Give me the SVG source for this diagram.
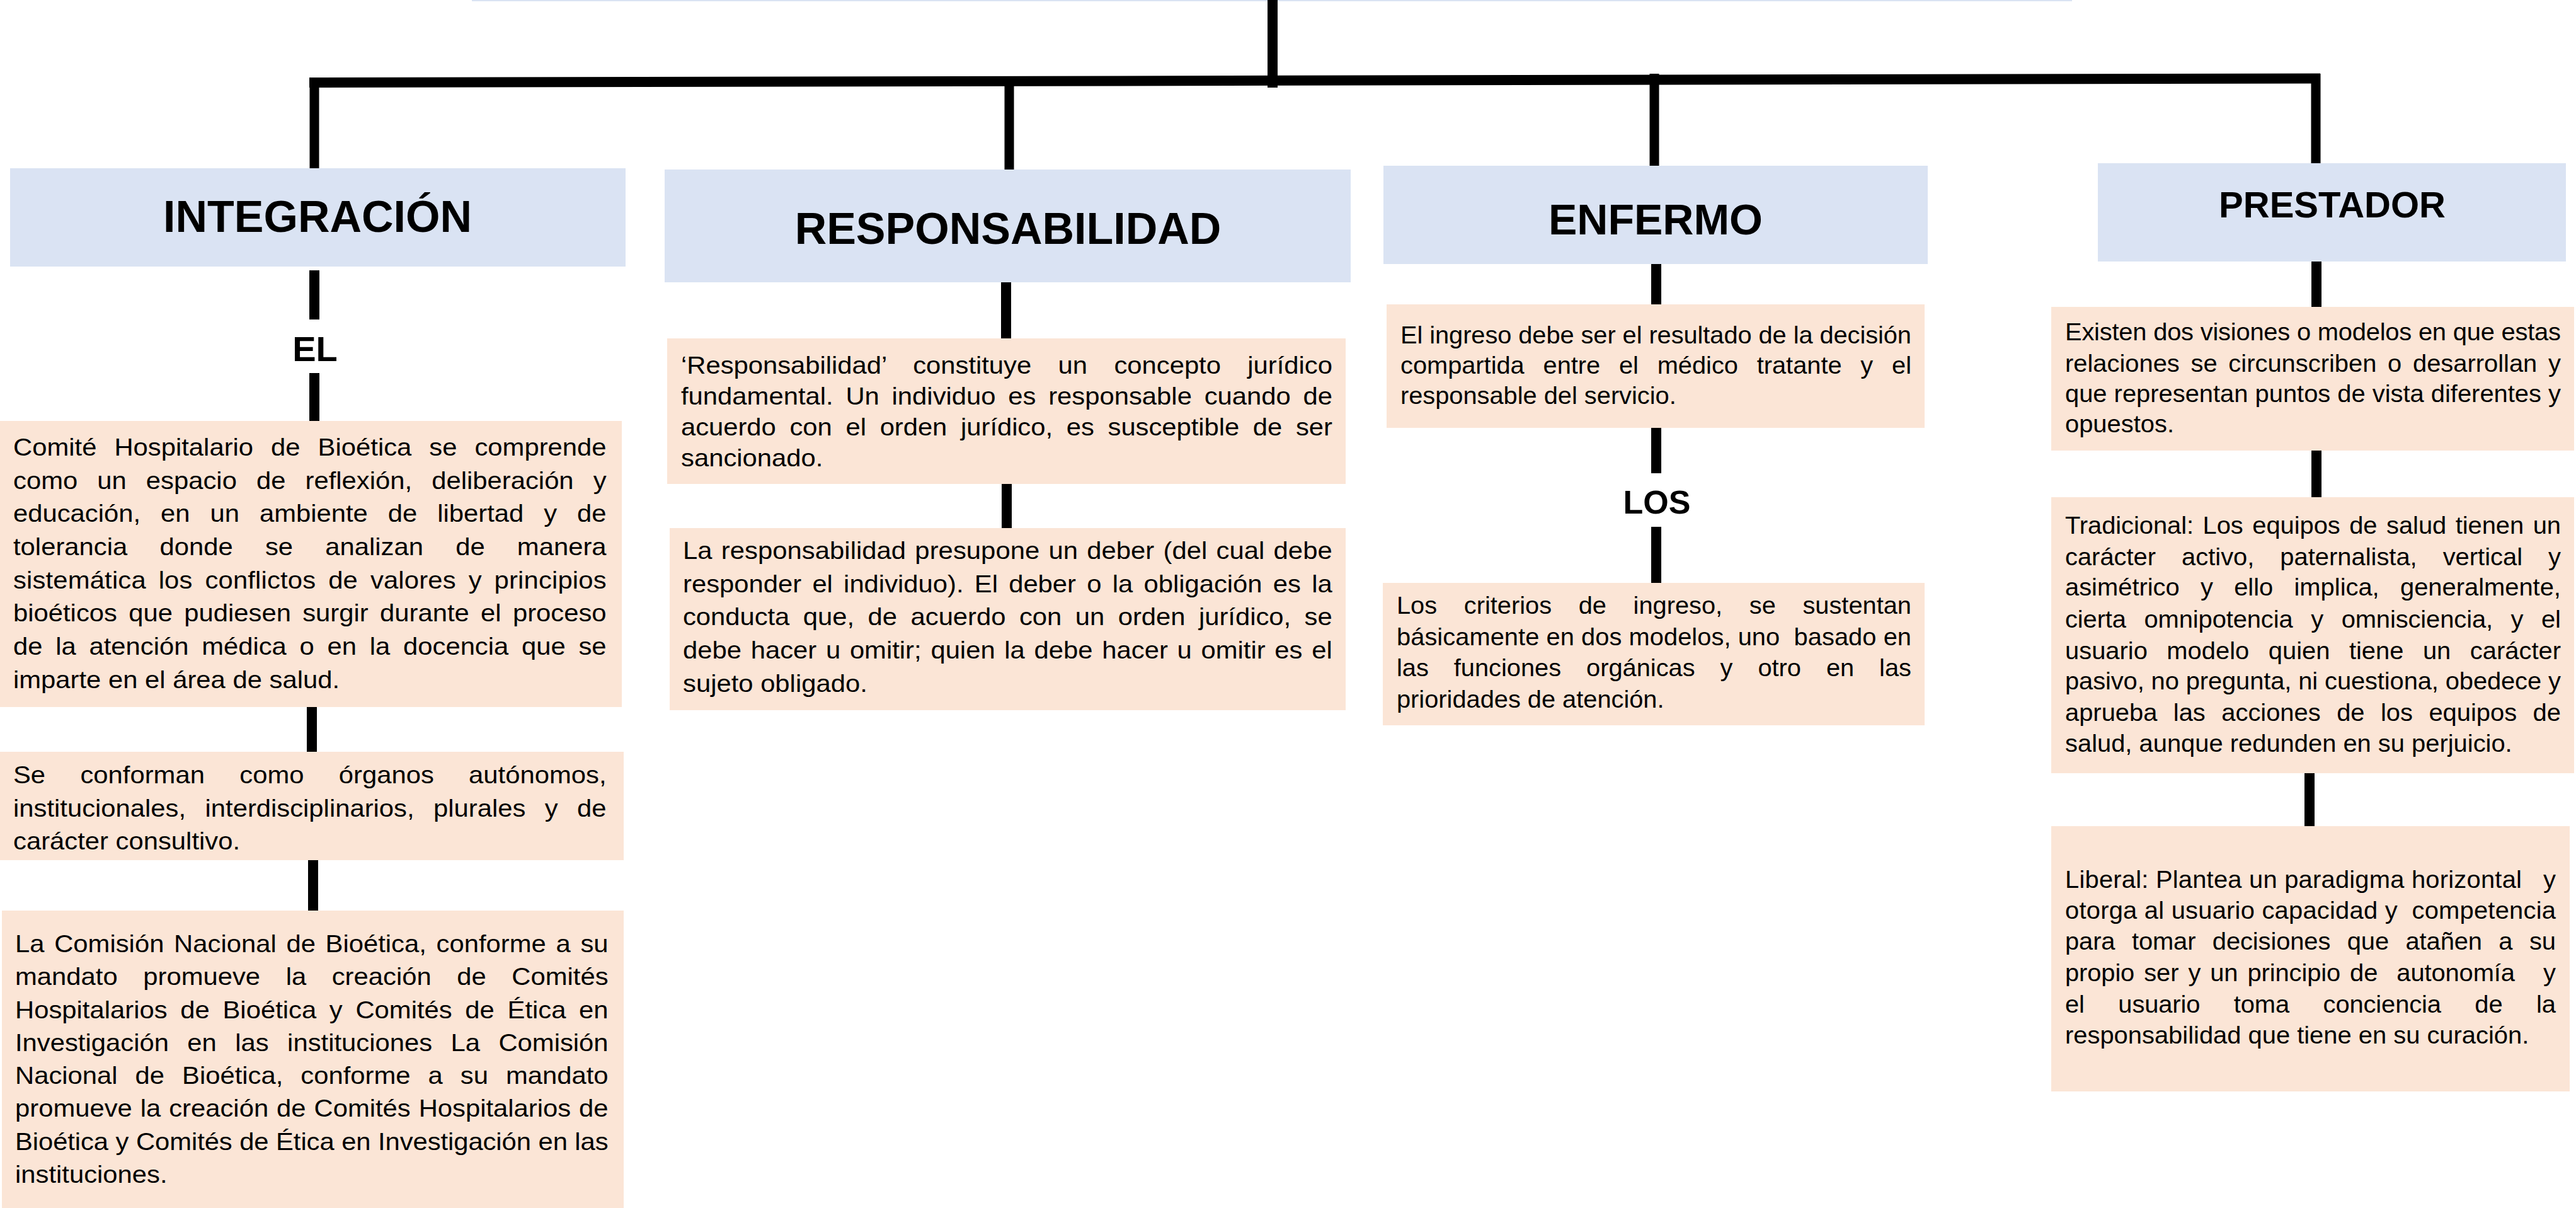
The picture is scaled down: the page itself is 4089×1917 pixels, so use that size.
<svg xmlns="http://www.w3.org/2000/svg" width="4089" height="1917" viewBox="0 0 4089 1917">
<style>
.hdr{fill:#DAE3F3}
.box{fill:#FBE5D6}
.t{font-family:"Liberation Sans",Arial,sans-serif;font-size:38px;fill:#000}
.h{font-family:"Liberation Sans",Arial,sans-serif;font-weight:bold;fill:#000;text-anchor:middle}
.c{stroke:#000;fill:none}
.c1{stroke-width:15}
.c2{stroke-width:16}
</style>
<rect width="4089" height="1917" fill="#fff"/>
<g id="title"><rect class="hdr" x="749" y="-20" width="2540" height="22"/></g>
<g id="connectors">
<line class="c c2" x1="2020" y1="0" x2="2020" y2="139"/>
<line class="c c2" x1="491" y1="131" x2="3683" y2="124.5"/>
<line class="c c1" x1="499" y1="124" x2="499" y2="267"/>
<line class="c c1" x1="1602" y1="124" x2="1602" y2="269"/>
<line class="c c1" x1="2626" y1="117" x2="2626" y2="263"/>
<line class="c c1" x1="3676" y1="117" x2="3676" y2="259"/>
<line class="c c2" x1="499" y1="429" x2="499" y2="507"/>
<line class="c c2" x1="499" y1="592" x2="499" y2="668"/>
<line class="c c2" x1="495" y1="1122" x2="495" y2="1193"/>
<line class="c c2" x1="497" y1="1365" x2="497" y2="1445"/>
<line class="c c2" x1="1597" y1="448" x2="1597" y2="537"/>
<line class="c c2" x1="1598" y1="768" x2="1598" y2="838"/>
<line class="c c2" x1="2629" y1="419" x2="2629" y2="483"/>
<line class="c c2" x1="2629" y1="679" x2="2629" y2="751"/>
<line class="c c2" x1="2629" y1="836" x2="2629" y2="925"/>
<line class="c c2" x1="3677" y1="415" x2="3677" y2="487"/>
<line class="c c2" x1="3677" y1="715" x2="3677" y2="789"/>
<line class="c c2" x1="3666" y1="1227" x2="3666" y2="1311"/>
</g>
<g id="integracion"><rect class="hdr" x="16" y="267" width="977" height="156"/><text class="h" x="504" y="368" font-size="70">INTEGRACIÓN</text></g>
<g id="responsabilidad"><rect class="hdr" x="1055" y="269" width="1089" height="179"/><text class="h" x="1600" y="387" font-size="70">RESPONSABILIDAD</text></g>
<g id="enfermo"><rect class="hdr" x="2196" y="263" width="864" height="156"/><text class="h" x="2628" y="372" font-size="68">ENFERMO</text></g>
<g id="prestador"><rect class="hdr" x="3330" y="259" width="743" height="156"/><text class="h" x="3702" y="345" font-size="58">PRESTADOR</text></g>
<g id="el"><text class="h" x="500" y="573" font-size="56">EL</text></g>
<g id="los"><text class="h" x="2630" y="815" font-size="52">LOS</text></g>
<g id="comite"><rect class="box" x="0" y="668" width="987" height="454"/>
<g transform="translate(21,0) scale(1.1,1)" class="t">
<text y="723" textLength="856" lengthAdjust="spacing" style="word-spacing:14.9px">Comité Hospitalario de Bioética se comprende</text>
<text y="775.7" textLength="856" lengthAdjust="spacing" style="word-spacing:17.7px">como un espacio de reflexión, deliberación y</text>
<text y="828.4" textLength="856" lengthAdjust="spacing" style="word-spacing:18.5px">educación, en un ambiente de libertad y de</text>
<text y="881.1" textLength="856" lengthAdjust="spacing" style="word-spacing:36px">tolerancia donde se analizan de manera</text>
<text y="933.8" textLength="856" lengthAdjust="spacing" style="word-spacing:7.4px">sistemática los conflictos de valores y principios</text>
<text y="986.5" textLength="856" lengthAdjust="spacing" style="word-spacing:6.1px">bioéticos que pudiesen surgir durante el proceso</text>
<text y="1039.2" textLength="856" lengthAdjust="spacing" style="word-spacing:8.3px">de la atención médica o en la docencia que se</text>
<text y="1092">imparte en el área de salud.</text>
</g></g>
<g id="organos"><rect class="box" x="0" y="1193" width="990" height="172"/>
<g transform="translate(21,0) scale(1.1,1)" class="t">
<text y="1243" textLength="856" lengthAdjust="spacing" style="word-spacing:39.7px">Se conforman como órganos autónomos,</text>
<text y="1296" textLength="856" lengthAdjust="spacing" style="word-spacing:17.1px">institucionales, interdisciplinarios, plurales y de</text>
<text y="1348">carácter consultivo.</text>
</g></g>
<g id="comision"><rect class="box" x="3" y="1445" width="987" height="472"/>
<g transform="translate(24,0) scale(1.1,1)" class="t">
<text y="1511" textLength="856" lengthAdjust="spacing" style="word-spacing:3.7px">La Comisión Nacional de Bioética, conforme a su</text>
<text y="1563.3" textLength="856" lengthAdjust="spacing" style="word-spacing:26.3px">mandato promueve la creación de Comités</text>
<text y="1615.6" textLength="856" lengthAdjust="spacing" style="word-spacing:8.2px">Hospitalarios de Bioética y Comités de Ética en</text>
<text y="1667.9" textLength="856" lengthAdjust="spacing" style="word-spacing:16.2px">Investigación en las instituciones La Comisión</text>
<text y="1720.2" textLength="856" lengthAdjust="spacing" style="word-spacing:14.9px">Nacional de Bioética, conforme a su mandato</text>
<text y="1772.5" textLength="856" lengthAdjust="spacing" style="word-spacing:1.2px">promueve la creación de Comités Hospitalarios de</text>
<text y="1824.8" textLength="856" lengthAdjust="spacing">Bioética y Comités de Ética en Investigación en las</text>
<text y="1877">instituciones.</text>
</g></g>
<g id="concepto"><rect class="box" x="1059" y="537" width="1077" height="231"/>
<g transform="translate(1081,0) scale(1.1,1)" class="t">
<text y="593" textLength="940" lengthAdjust="spacing" style="word-spacing:28px">‘Responsabilidad’ constituye un concepto jurídico</text>
<text y="642" textLength="940" lengthAdjust="spacing" style="word-spacing:7.4px">fundamental. Un individuo es responsable cuando de</text>
<text y="691" textLength="940" lengthAdjust="spacing" style="word-spacing:9.3px">acuerdo con el orden jurídico, es susceptible de ser</text>
<text y="740">sancionado.</text>
</g></g>
<g id="deber"><rect class="box" x="1063" y="838" width="1073" height="289"/>
<g transform="translate(1084,0) scale(1.1,1)" class="t">
<text y="887" textLength="937" lengthAdjust="spacing" style="word-spacing:2.3px">La responsabilidad presupone un deber (del cual debe</text>
<text y="940" textLength="937" lengthAdjust="spacing" style="word-spacing:5.1px">responder el individuo). El deber o la obligación es la</text>
<text y="992" textLength="937" lengthAdjust="spacing" style="word-spacing:9.1px">conducta que, de acuerdo con un orden jurídico, se</text>
<text y="1045" textLength="937" lengthAdjust="spacing" style="word-spacing:2.8px">debe hacer u omitir; quien la debe hacer u omitir es el</text>
<text y="1098">sujeto obligado.</text>
</g></g>
<g id="ingreso"><rect class="box" x="2201" y="483" width="854" height="196"/>
<g transform="translate(2223,0) scale(1.047,1)" class="t">
<text y="545" textLength="774.6" lengthAdjust="spacing">El ingreso debe ser el resultado de la decisión</text>
<text y="593" textLength="774.6" lengthAdjust="spacing" style="word-spacing:17.9px">compartida entre el médico tratante y el</text>
<text y="641">responsable del servicio.</text>
</g></g>
<g id="criterios"><rect class="box" x="2195" y="925" width="860" height="226"/>
<g transform="translate(2217,0) scale(1.047,1)" class="t">
<text y="974" textLength="780.3" lengthAdjust="spacing" style="word-spacing:30.2px">Los criterios de ingreso, se sustentan</text>
<text y="1024" textLength="780.3" lengthAdjust="spacing" xml:space="preserve">básicamente en dos modelos, uno  basado en</text>
<text y="1073" textLength="780.3" lengthAdjust="spacing" style="word-spacing:27.6px">las funciones orgánicas y otro en las</text>
<text y="1123">prioridades de atención.</text>
</g></g>
<g id="visiones"><rect class="box" x="3256" y="487" width="830" height="228"/>
<g transform="translate(3278,0) scale(1.05,1)" class="t">
<text y="540" textLength="749.5" lengthAdjust="spacing">Existen dos visiones o modelos en que estas</text>
<text y="590" textLength="749.5" lengthAdjust="spacing" style="word-spacing:6.3px">relaciones se circunscriben o desarrollan y</text>
<text y="638" textLength="749.5" lengthAdjust="spacing">que representan puntos de vista diferentes y</text>
<text y="686">opuestos.</text>
</g></g>
<g id="tradicional"><rect class="box" x="3256" y="789" width="830" height="438"/>
<g transform="translate(3278,0) scale(1.05,1)" class="t">
<text y="847" textLength="749.5" lengthAdjust="spacing" style="word-spacing:3.4px">Tradicional: Los equipos de salud tienen un</text>
<text y="897" textLength="749.5" lengthAdjust="spacing" style="word-spacing:28.5px">carácter activo, paternalista, vertical y</text>
<text y="945" textLength="749.5" lengthAdjust="spacing" style="word-spacing:21.1px">asimétrico y ello implica, generalmente,</text>
<text y="996" textLength="749.5" lengthAdjust="spacing" style="word-spacing:16.8px">cierta omnipotencia y omnisciencia, y el</text>
<text y="1046" textLength="749.5" lengthAdjust="spacing" style="word-spacing:18.5px">usuario modelo quien tiene un carácter</text>
<text y="1094" textLength="749.5" lengthAdjust="spacing">pasivo, no pregunta, ni cuestiona, obedece y</text>
<text y="1144" textLength="749.5" lengthAdjust="spacing" style="word-spacing:13.7px">aprueba las acciones de los equipos de</text>
<text y="1193">salud, aunque redunden en su perjuicio.</text>
</g></g>
<g id="liberal"><rect class="box" x="3256" y="1311" width="823" height="421"/>
<g transform="translate(3278,0) scale(1.05,1)" class="t">
<text y="1409" textLength="741.9" lengthAdjust="spacing" xml:space="preserve">Liberal: Plantea un paradigma horizontal   y</text>
<text y="1458" textLength="741.9" lengthAdjust="spacing" xml:space="preserve">otorga al usuario capacidad y  competencia</text>
<text y="1507" textLength="741.9" lengthAdjust="spacing" style="word-spacing:14.8px">para tomar decisiones que atañen a su</text>
<text y="1557" textLength="741.9" lengthAdjust="spacing" xml:space="preserve" style="word-spacing:3.9px">propio ser y un principio de  autonomía   y</text>
<text y="1607" textLength="741.9" lengthAdjust="spacing" style="word-spacing:40.6px">el usuario toma conciencia de la</text>
<text y="1656">responsabilidad que tiene en su curación.</text>
</g></g>
</svg>
